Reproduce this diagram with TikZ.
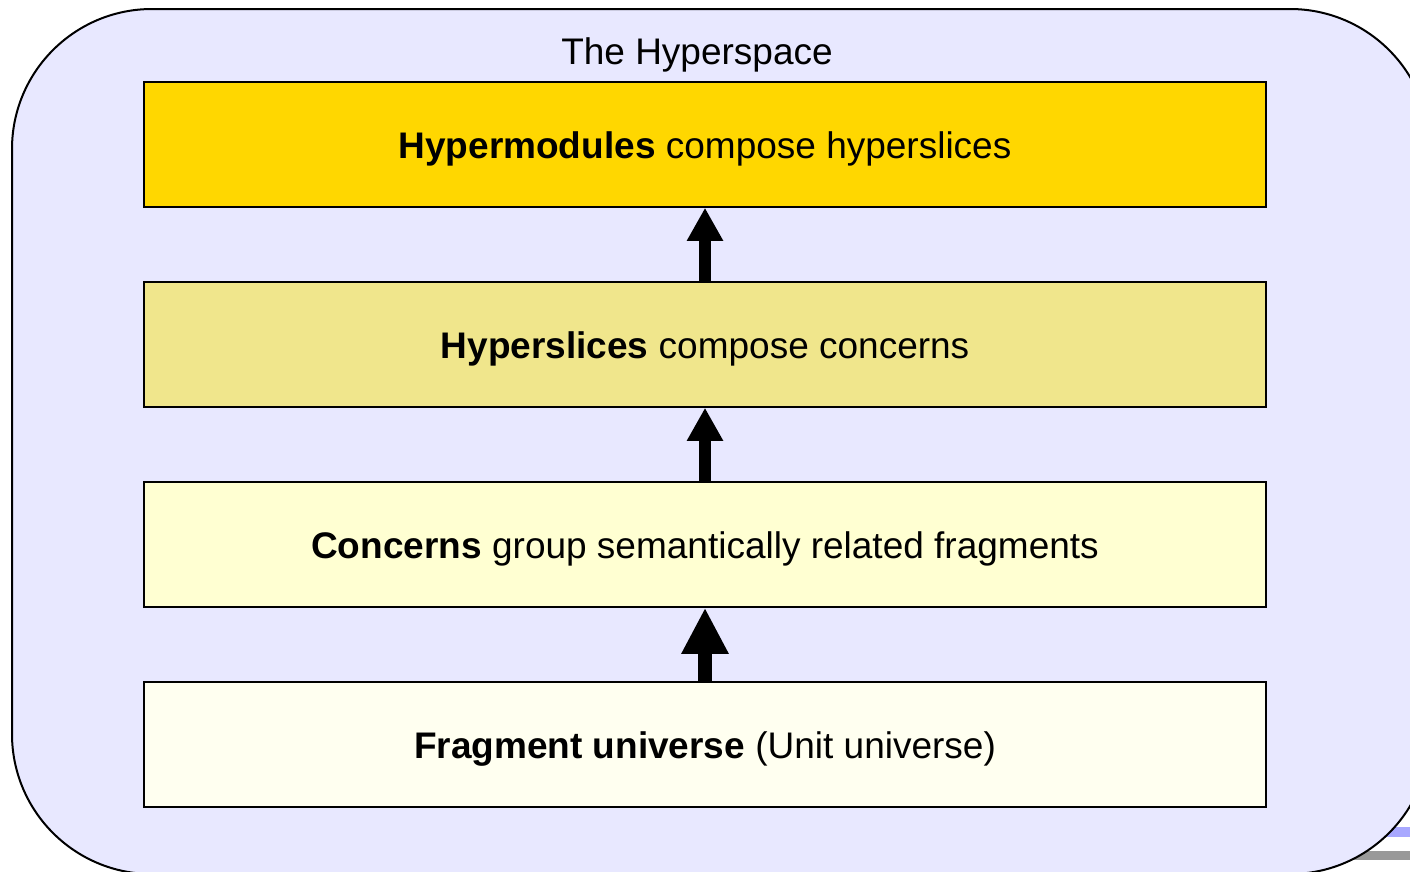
\documentclass[tikz,border=0pt]{standalone}
\usepackage{fontspec}
\setmainfont{Liberation Sans}
\usetikzlibrary{arrows.meta}
\definecolor{bgl}{HTML}{E8E8FF}
\definecolor{c1}{HTML}{FFD700}
\definecolor{c2}{HTML}{F0E68C}
\definecolor{c3}{HTML}{FFFFD2}
\definecolor{c4}{HTML}{FFFFF0}
\definecolor{barblue}{HTML}{A8A8FF}
\definecolor{bargray}{HTML}{999999}
\tikzset{
  layer/.style={draw=black, line width=1.5pt, minimum width=1122pt, minimum height=125pt, inner sep=0pt, text height=35pt, text depth=8pt, font=\fontsize{37}{44}\selectfont},
  uparrow/.style={line width=12pt, -{Triangle[width=34pt,length=33pt]}},
  bigarrow/.style={line width=14pt, -{Triangle[width=44pt,length=46pt]}},
}
\begin{document}
\begin{tikzpicture}[x=1pt,y=-1pt]
\useasboundingbox (0,0) rectangle (1410,871);
\clip (0,0) rectangle (1410,871);
\fill[barblue] (1360,827) rectangle (1410,837);
\fill[bargray] (1330,851) rectangle (1410,860);
\draw[fill=bgl, line width=2pt, rounded corners=140pt] (12,9) rectangle (1430,874);
\node[font=\fontsize{37}{44}\selectfont] (title) at (697,55) {The Hyperspace};
\node[layer, fill=c1] (hm) at (705,144.5) {\textbf{Hypermodules} compose hyperslices};
\node[layer, fill=c2] (hs) at (705,344.5) {\textbf{Hyperslices} compose concerns};
\node[layer, fill=c3] (co) at (705,544.5) {\textbf{Concerns} group semantically related fragments};
\node[layer, fill=c4] (fu) at (705,744.5) {\textbf{Fragment universe} (Unit universe)};
\draw[uparrow] (hs.north) -- (hm.south);
\draw[uparrow] (co.north) -- (hs.south);
\draw[bigarrow] (fu.north) -- (co.south);
\end{tikzpicture}
\end{document}
